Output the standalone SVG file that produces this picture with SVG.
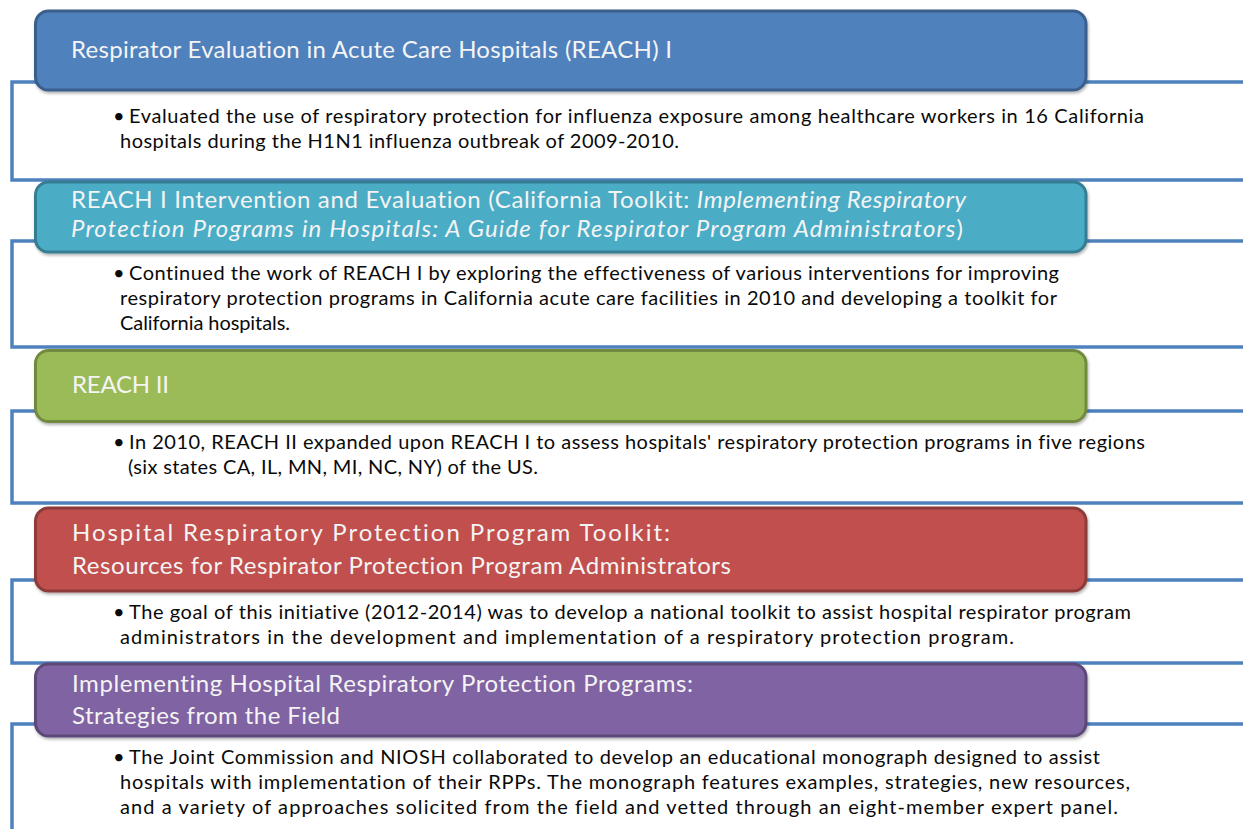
<svg xmlns="http://www.w3.org/2000/svg" width="1243" height="829" viewBox="0 0 1243 829">
<defs>
<filter id="sh" x="-5%" y="-20%" width="110%" height="150%">
<feDropShadow dx="1" dy="2" stdDeviation="1.5" flood-color="#000" flood-opacity="0.3"/>
</filter>
</defs>
<style>
.box{fill:#fff;stroke:#4F81BD;stroke-width:3.5}
.hd{stroke-width:3}
.ht{font-family:Lato,"Liberation Sans",sans-serif;font-size:24px;fill:#F4F4F4;font-variant-ligatures:none}
.bt{font-family:Lato,"Liberation Sans",sans-serif;font-size:20px;fill:#0a0a0a;font-variant-ligatures:none}
.it{font-style:italic}
</style>
<rect width="1243" height="829" fill="#fff"/>

<g id="item1">
<rect class="box" x="12" y="82" width="1260" height="98"/>
<rect class="hd" x="35.5" y="11" width="1050.5" height="79" rx="13" fill="#4F81BD" stroke="#3A5F8C" filter="url(#sh)"/>
<text class="ht" x="71" y="58" textLength="601">Respirator Evaluation in Acute Care Hospitals (REACH) I</text>
<text class="bt" x="113" y="123">•</text>
<text class="bt" x="129" y="123" textLength="1015">Evaluated the use of respiratory protection for influenza exposure among healthcare workers in 16 California</text>
<text class="bt" x="120" y="148" textLength="559">hospitals during the H1N1 influenza outbreak of 2009-2010.</text>
</g>

<g id="item2">
<rect class="box" x="12" y="241" width="1260" height="106"/>
<rect class="hd" x="35.5" y="182" width="1050.5" height="70" rx="13" fill="#4BACC6" stroke="#357E92" filter="url(#sh)"/>
<text class="ht" x="71" y="208" textLength="895">REACH I Intervention and Evaluation (California Toolkit: <tspan class="it">Implementing Respiratory</tspan></text>
<text class="ht" x="71" y="237" textLength="892"><tspan class="it">Protection Programs in Hospitals: A Guide for Respirator Program Administrators</tspan>)</text>
<text class="bt" x="113" y="280">•</text>
<text class="bt" x="129" y="280" textLength="930">Continued the work of REACH I by exploring the effectiveness of various interventions for improving</text>
<text class="bt" x="120" y="305" textLength="937">respiratory protection programs in California acute care facilities in 2010 and developing a toolkit for</text>
<text class="bt" x="120" y="330" textLength="170">California hospitals.</text>
</g>

<g id="item3">
<rect class="box" x="12" y="411" width="1260" height="92"/>
<rect class="hd" x="35.5" y="350.5" width="1050.5" height="71" rx="13" fill="#9BBB59" stroke="#728A40" filter="url(#sh)"/>
<text class="ht" x="72" y="393" textLength="97">REACH II</text>
<text class="bt" x="113" y="449">•</text>
<text class="bt" x="129" y="449" textLength="1016">In 2010, REACH II expanded upon REACH I to assess hospitals' respiratory protection programs in five regions</text>
<text class="bt" x="128" y="474" textLength="410">(six states CA, IL, MN, MI, NC, NY) of the US.</text>
</g>

<g id="item4">
<rect class="box" x="12" y="580" width="1260" height="83"/>
<rect class="hd" x="35.5" y="508" width="1050.5" height="83" rx="13" fill="#C0504D" stroke="#8D3A38" filter="url(#sh)"/>
<text class="ht" x="72" y="541" textLength="598">Hospital Respiratory Protection Program Toolkit:</text>
<text class="ht" x="72" y="574" textLength="659">Resources for Respirator Protection Program Administrators</text>
<text class="bt" x="113" y="619">•</text>
<text class="bt" x="129" y="619" textLength="1002">The goal of this initiative (2012-2014) was to develop a national toolkit to assist hospital respirator program</text>
<text class="bt" x="120" y="644" textLength="894">administrators in the development and implementation of a respiratory protection program.</text>
</g>

<g id="item5">
<rect class="box" x="12" y="724" width="1260" height="140"/>
<rect class="hd" x="35.5" y="664" width="1050.5" height="72" rx="13" fill="#8064A2" stroke="#5D4878" filter="url(#sh)"/>
<text class="ht" x="72" y="692" textLength="621">Implementing Hospital Respiratory Protection Programs:</text>
<text class="ht" x="72" y="724" textLength="268">Strategies from the Field</text>
<text class="bt" x="113" y="764">•</text>
<text class="bt" x="129" y="764" textLength="971">The Joint Commission and NIOSH collaborated to develop an educational monograph designed to assist</text>
<text class="bt" x="120" y="789" textLength="1010">hospitals with implementation of their RPPs. The monograph features examples, strategies, new resources,</text>
<text class="bt" x="120" y="814" textLength="998">and a variety of approaches solicited from the field and vetted through an eight-member expert panel.</text>
</g>
</svg>
